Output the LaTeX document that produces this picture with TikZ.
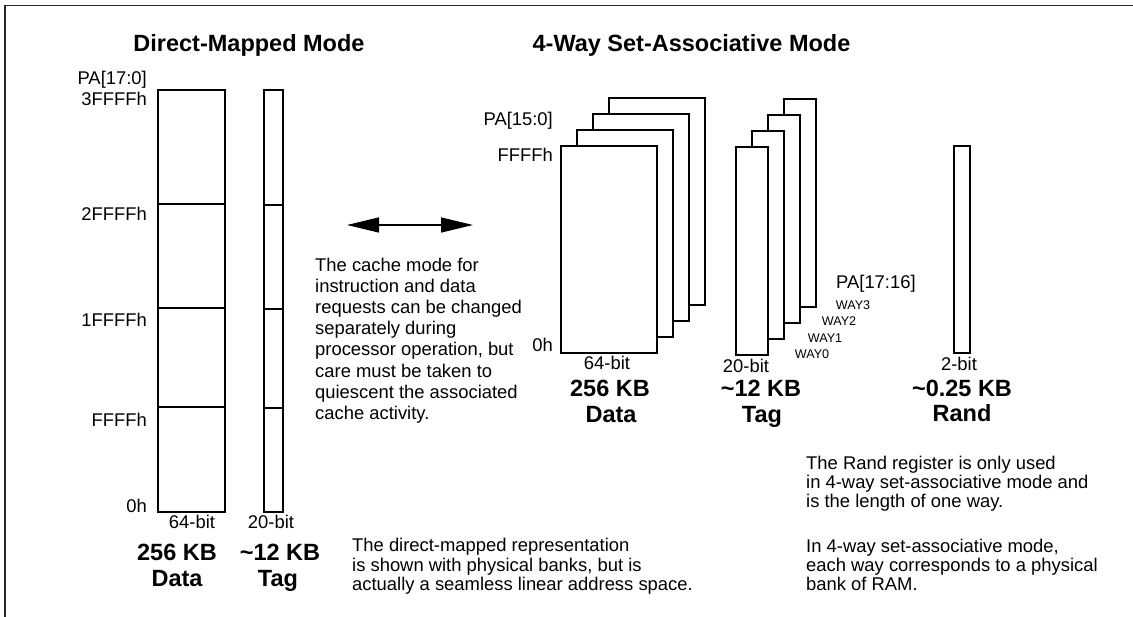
\documentclass[tikz,border=0pt]{standalone}
\usepackage{fontspec}
\setmainfont{Liberation Sans}
\usetikzlibrary{arrows.meta}
\begin{document}
\begin{tikzpicture}[x=1pt,y=-1pt,
  box/.style={draw=black,line width=1.2pt,fill=white},
  sep/.style={draw=black,line width=1.2pt},
  frame/.style={draw=black!85,line width=1.4pt},
  title/.style={inner sep=0pt,anchor=base,font=\fontsize{23.5}{28}\selectfont\bfseries},
  big/.style={inner sep=0pt,anchor=base,font=\fontsize{23.5}{26}\selectfont\bfseries},
  lbl/.style={inner sep=0pt,font=\fontsize{18.4}{20}\selectfont},
  way/.style={inner sep=0pt,anchor=base,font=\fontsize{12.6}{14}\selectfont},
  para/.style={inner sep=0pt,anchor=north west,align=left,font=\fontsize{18.4}{19.2}\selectfont},
  note/.style={inner sep=0pt,anchor=north west,align=left,font=\fontsize{18.4}{21.2}\selectfont},
  dblarrow/.style={line width=1.3pt,{Triangle[length=32pt,width=15pt]}-{Triangle[length=32pt,width=15pt]}},
]
\path[use as bounding box] (0,0) rectangle (1133,617);
% frame
\draw[frame] (5,617) -- (5,5.5) -- (1133,5.5);

% titles
\node[title] (t1) at (249,51.5) {Direct-Mapped Mode};
\node[title] (t2) at (691.5,51.5) {4-Way Set-Associative Mode};

% ---------------- direct-mapped ----------------
\draw[box] (158,90) rectangle (225,512);
\draw[sep] (158,204) -- (225,204);
\draw[sep] (158,308) -- (225,308);
\draw[sep] (158,407) -- (225,407);
\draw[box] (264,90) rectangle (283,512);
\draw[sep] (264,205) -- (283,205);
\draw[sep] (264,309) -- (283,309);
\draw[sep] (264,408) -- (283,408);

\node[lbl,anchor=base east] (pa1) at (147,84.5) {PA[17:0]};
\node[lbl,anchor=base east] (a3) at (147,106) {3FFFFh};
\node[lbl,anchor=base east] (a2) at (147,221) {2FFFFh};
\node[lbl,anchor=base east] (a1) at (147,326.5) {1FFFFh};
\node[lbl,anchor=base east] (a0) at (147,427) {FFFFh};
\node[lbl,anchor=base east] (az) at (147,512.5) {0h};
\node[lbl,anchor=base] (w1) at (192,529) {64-bit};
\node[lbl,anchor=base] (w2) at (271,529) {20-bit};
\node[big] (s1) at (177,560) {256 KB};
\node[big] (n1) at (177,586.5) {Data};
\node[big] (s2) at (280,560) {\textasciitilde 12 KB};
\node[big] (n2) at (278,586.5) {Tag};

\node[para] (p1) at (352,538.3) {The direct-mapped representation\\is shown with physical banks, but is\\actually a seamless linear address space.};

% ---------------- middle ----------------
\coordinate (arrL) at (347,225);
\coordinate (arrR) at (473,225);
\draw[dblarrow] (arrL) -- (arrR);
\node[note] (p2) at (315,257.6) {The cache mode for\\instruction and data\\requests can be changed\\separately during\\processor operation, but\\care must be taken to\\quiescent the associated\\cache activity.};

% ---------------- 4-way ----------------
\draw[box] (609,98) rectangle (705,305);
\draw[box] (593,114) rectangle (689,321);
\draw[box] (577,130) rectangle (673,337);
\draw[box] (561,146) rectangle (657,353);

\draw[box] (784,99) rectangle (816,307);
\draw[box] (768,115) rectangle (800,323);
\draw[box] (752,131) rectangle (784,339);
\draw[box] (736,147) rectangle (768,355);

\draw[box] (954,146) rectangle (970,353);

\node[lbl,anchor=base east] (pa2) at (553,125.5) {PA[15:0]};
\node[lbl,anchor=base east] (b1) at (553,161.5) {FFFFh};
\node[lbl,anchor=base east] (b0) at (553,351.5) {0h};
\node[lbl,anchor=base] (w3) at (607,369.5) {64-bit};
\node[lbl,anchor=base] (w4) at (746,373) {20-bit};
\node[lbl,anchor=base] (w5) at (959,371) {2-bit};
\node[big] (s3) at (610,396.5) {256 KB};
\node[big] (n3) at (611,423) {Data};
\node[big] (s4) at (761,396.5) {\textasciitilde 12 KB};
\node[big] (n4) at (762,423) {Tag};
\node[big] (s5) at (962,396.5) {\textasciitilde 0.25 KB};
\node[big] (n5) at (962,422) {Rand};

\node[lbl,anchor=base west] (pa3) at (836,289) {PA[17:16]};
\node[way] (way3) at (853,310) {WAY3};
\node[way] (way2) at (839,326) {WAY2};
\node[way] (way1) at (825,342.5) {WAY1};
\node[way] (way0) at (812,359) {WAY0};

\node[para] (p3) at (806,455.6) {The Rand register is only used\\in 4-way set-associative mode and\\is the length of one way.};
\node[para] (p4) at (806,538.6) {In 4-way set-associative mode,\\each way corresponds to a physical\\bank of RAM.};
\end{tikzpicture}
\end{document}
